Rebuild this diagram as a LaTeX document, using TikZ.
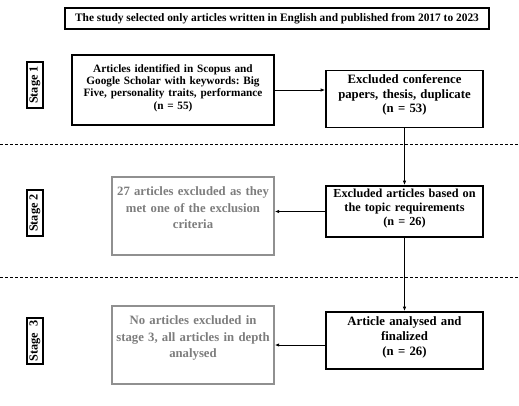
\documentclass[tikz,border=0pt]{standalone}
\usepackage{fontspec}
\setmainfont{Liberation Serif}
\usetikzlibrary{arrows.meta}
\definecolor{fadegray}{RGB}{125,125,125}
\frenchspacing
\begin{document}
\begin{tikzpicture}[
        x=1bp, y=-1bp,
        stagebox/.style={
            draw,
            line width=1.1bp,
            rotate=90,
            inner sep=1.5bp,
            minimum width=46bp,
            minimum height=16bp,
            font=\fontsize{12.3}{14}\bfseries
        },
        mainbox/.style={
            draw,
            rectangle,
            line width=1.7bp,
            inner xsep=3.5bp,
            minimum width=157bp,
            minimum height=57bp,
            text width=150bp,
            align=center
        },
        greybox/.style={
            draw=fadegray!85,
            rectangle,
            line width=1.4bp,
            text=fadegray,
            inner xsep=3bp,
            minimum width=162bp,
            minimum height=78bp,
            text width=156bp,
            align=center
        },
        flow/.style={-{Latex[length=4.5bp,width=3.5bp]}, line width=1bp},
        stageline/.style={dash pattern=on 3bp off 2bp, line width=0.7bp}
    ]
        \useasboundingbox (0,0) rectangle (519,405);

        % Scope of the study
        \node[draw, line width=1.6bp, inner xsep=2bp, minimum width=424bp, minimum height=21bp,
              font=\fontsize{11.45}{13}\bfseries] (scope) at (277,18.5)
              {The study selected only articles written in English and published from 2017 to 2023};

        % Stage labels
        \node[stagebox] (stage1) at (35,85) {Stage 1};
        \node[stagebox] (stage2) at (35,213) {Stage 2};
        \node[stagebox] (stage3) at (35,341) {Stage\ \ 3};

        % Main boxes
        \node[mainbox, minimum width=202bp, minimum height=70bp, text width=190bp, inner xsep=6bp,
              font=\fontsize{11.3}{12.4}\bfseries] (identified) at (173,90)
              {Articles identified in Scopus and\\Google Scholar with keywords: Big\\Five, personality traits, performance\\(n = 55)\\[-6bp]\mbox{}};
        \node[mainbox, font=\fontsize{12.8}{14.5}\bfseries] (conference) at (404.5,99)
              {Excluded conference\\papers, thesis, duplicate\\(n = 53)\\[-4bp]\mbox{}};
        \node[mainbox, minimum height=51bp, font=\fontsize{12.3}{14}\bfseries] (topic) at (404.5,211.5)
              {Excluded articles based on\\the topic requirements\\(n = 26)\\[-6bp]\mbox{}};
        \node[mainbox, font=\fontsize{12.8}{15}\bfseries] (final) at (404.5,340.5)
              {Article analysed and\\finalized\\(n = 26)\\[-6bp]\mbox{}};

        % Excluded boxes
        \node[greybox, font=\fontsize{12.75}{16.5}\bfseries] (criteria) at (193,216)
              {27 articles excluded as they\\met one of the exclusion\\criteria\\\mbox{}};
        \node[greybox, font=\fontsize{12.8}{16.7}\bfseries] (depth) at (193,345)
              {No articles excluded in\\stage 3, all articles in depth\\analysed\\\mbox{}};

        % Stage separators
        \draw[stageline] (0,144) -- (519,144);
        \draw[stageline] (0,277) -- (519,277);

        % Arrows
        \draw[flow] (identified.east) -- (identified.east -| conference.west);
        \draw[flow] (conference.south) -- (topic.north);
        \draw[flow] (topic.south) -- (final.north);
        \draw[flow] (topic.west) -- (topic.west -| criteria.east);
        \draw[flow] (depth.east -| final.west) -- (depth.east);

    \end{tikzpicture}
\end{document}
